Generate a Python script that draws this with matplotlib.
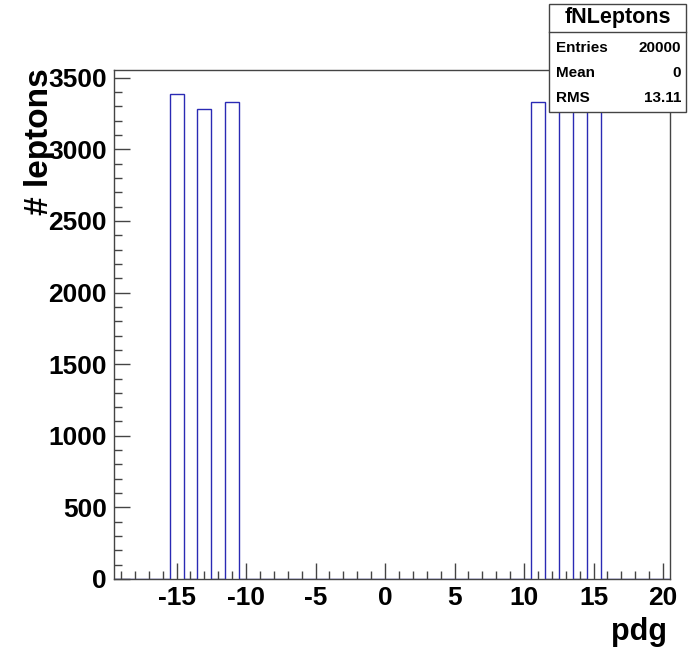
import matplotlib
matplotlib.use('Agg')
import matplotlib.pyplot as plt
import numpy as np

# histogram fNLeptons: 40 bins of width 1 from -19.5 to 20.5
bin_edges = np.arange(-19.5, 21.0, 1.0)
pdg_codes = [-15, -13, -11, 11, 13, 15]
counts = [3385, 3282, 3333, 3333, 3282, 3385]
stats_rows = [("Entries", "20000"), ("Mean", "0"), ("RMS", "13.11")]

values = np.zeros(len(bin_edges) - 1)
centers = (bin_edges[:-1] + bin_edges[1:]) / 2
for code, n in zip(pdg_codes, counts):
    values[np.argmin(np.abs(centers - code))] = n

plt.rcParams['font.family'] = 'Liberation Sans'
plt.rcParams['font.weight'] = 'bold'
plt.rcParams['axes.unicode_minus'] = False

fig = plt.figure(figsize=(6.88, 6.57), dpi=100)
ax = fig.add_axes([114 / 688, 78 / 657, 556 / 688, 509 / 657])

ax.stairs(values, bin_edges, color='#2a2ab4', linewidth=1.0)

ax.set_xlim(-19.5, 20.5)
ax.set_ylim(0, max(counts) * 1.05)
ax.set_xticks([-15, -10, -5, 0, 5, 10, 15, 20])
ax.set_xticks(np.arange(-19, 21, 1), minor=True)
ax.set_yticks(np.arange(0, 3501, 500))
ax.set_yticks(np.arange(0, 3501, 100), minor=True)

ax.tick_params(which='both', direction='in', color='#444444', width=1.0,
               labelsize=19)
ax.tick_params(which='major', length=11.5)
ax.tick_params(which='minor', length=5.5)
ax.tick_params(axis='x', pad=5)
ax.tick_params(axis='y', pad=5)
for lab in ax.get_xticklabels() + ax.get_yticklabels():
    lab.set_fontweight('bold')
for sp in ax.spines.values():
    sp.set_color('#444444')
    sp.set_linewidth(1.0)

fig.text(667 / 688, 1 - 632 / 657, "pdg", ha='right', va='center',
         fontsize=22, fontweight='bold')
fig.text(40 / 688, 1 - 68 / 657, "# leptons", ha='center', va='top',
         rotation=90, fontsize=24, fontweight='bold')

# stats box
bx0, bx1 = 549 / 688, 686 / 688
by0, by1 = 1 - 112 / 657, 1 - 4 / 657
fig.patches.append(plt.Rectangle((bx0, by0), bx1 - bx0, by1 - by0,
                                 transform=fig.transFigure, facecolor='white',
                                 edgecolor='#444444', linewidth=1.0, zorder=5))
fig.lines.append(plt.Line2D([bx0, bx1], [1 - 32 / 657] * 2,
                            transform=fig.transFigure, color='#444444',
                            linewidth=1.0, zorder=6))
fig.text((bx0 + bx1) / 2, 1 - 18 / 657, "fNLeptons", ha='center', va='center',
         fontsize=15.5, fontweight='bold', zorder=7)
for i, (name, val) in enumerate(stats_rows):
    y = 1 - (48 + 25 * i) / 657
    fig.text(556 / 688, y, name, ha='left', va='center', fontsize=11,
             fontweight='bold', zorder=7)
    fig.text(681 / 688, y, val, ha='right', va='center', fontsize=11,
             fontweight='bold', zorder=7)

fig.savefig('out.png', dpi=100, facecolor='white')
plt.close(fig)
